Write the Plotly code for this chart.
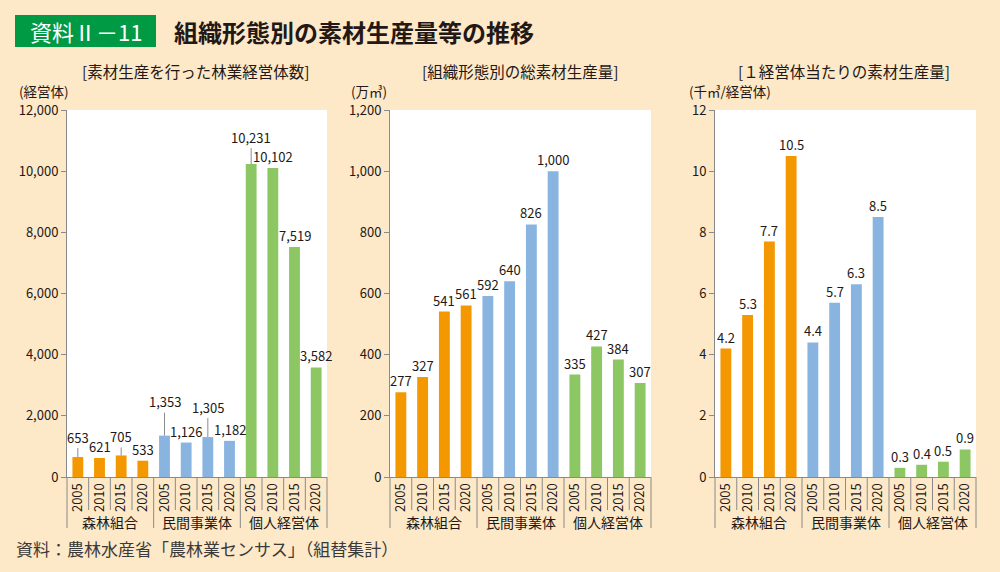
import plotly.graph_objects as go

# ---- data ----------------------------------------------------------------
years = ['2005', '2010', '2015', '2020']
groups = ['森林組合', '民間事業体', '個人経営体']

# 素材生産を行った林業経営体数 [経営体]
bodies = [653, 621, 705, 533, 1353, 1126, 1305, 1182, 10231, 10102, 7519, 3582]
# 組織形態別の総素材生産量 [万m3]
volume = [277, 327, 541, 561, 592, 640, 826, 1000, 335, 427, 384, 307]
# 1経営体当たりの素材生産量 [千m3/経営体]
per_body = [4.2, 5.3, 7.7, 10.5, 4.4, 5.7, 6.3, 8.5, 0.3, 0.4, 0.5, 0.9]

# labels lifted with a leader line in the first panel (index -> px)
leader_lift = {0: 20, 2: 19, 4: 34, 6: 30, 8: 27}

# ---- style ---------------------------------------------------------------
FONT = 'Noto Sans CJK JP'
INK = '#231815'
AXIS = '#8a8a8a'
BG = '#fde8c8'
group_colors = ['#f39800', '#8ab4e0', '#8cc763']

n = len(groups) * len(years)
xs = list(range(n))
ticktext = years * len(groups)
colors = [c for c in group_colors for _ in years]

panels = [
    dict(values=bodies, fmt='{:,}', rng=[0, 12000], dtick=2000, tickformat=',',
         dom=[0.067, 0.327], sub='[素材生産を行った林業経営体数]', subx=0.195,
         unit='(経営体)', unitx=0.018),
    dict(values=volume, fmt='{:,}', rng=[0, 1200], dtick=200, tickformat=',',
         dom=[0.390, 0.651], sub='[組織形態別の総素材生産量]', subx=0.520,
         unit='(万㎥)', unitx=0.350),
    dict(values=per_body, fmt='{:.1f}', rng=[0, 12], dtick=2, tickformat='d',
         dom=[0.715, 0.976], sub='[１経営体当たりの素材生産量]', subx=0.844,
         unit='(千㎥/経営体)', unitx=0.688),
]

y_dom = [1 - 477 / 572, 1 - 110 / 572]

fig = go.Figure()
annotations = []
shapes = []
layout_axes = {}

for p, pan in enumerate(panels):
    sfx = '' if p == 0 else str(p + 1)
    xa, ya = 'x' + sfx, 'y' + sfx

    fig.add_trace(go.Bar(x=xs, y=pan['values'], marker=dict(color=colors, line=dict(width=0)),
                         width=0.5, xaxis=xa, yaxis=ya, showlegend=False,
                         hoverinfo='x+y'))

    layout_axes['xaxis' + sfx] = dict(
        domain=pan['dom'], anchor=ya, range=[-0.5, n - 0.5],
        tickmode='array', tickvals=xs, ticktext=ticktext, tickangle=-90,
        tickfont=dict(family=FONT, size=13, color=INK),
        showline=True, linecolor=AXIS, linewidth=1, ticks='',
        showgrid=False, zeroline=False, fixedrange=True, automargin=False,
    )
    layout_axes['yaxis' + sfx] = dict(
        domain=y_dom, anchor=xa, range=pan['rng'], dtick=pan['dtick'],
        tickformat=pan['tickformat'],
        tickfont=dict(family=FONT, size=13, color=INK),
        showline=True, linecolor=AXIS, linewidth=1,
        ticks='outside', ticklen=5, tickcolor=AXIS, tickwidth=1,
        showgrid=False, zeroline=False, fixedrange=True, automargin=False,
    )

    # value labels
    for i, v in enumerate(pan['values']):
        txt = pan['fmt'].format(v)
        if p == 0 and i in leader_lift:
            annotations.append(dict(
                x=i, y=v, xref=xa, yref=ya, text=txt, showarrow=True,
                arrowhead=0, arrowwidth=1, arrowcolor='#8c8c8c', standoff=0,
                ax=0, ay=-leader_lift[i],
                font=dict(family=FONT, size=13, color=INK)))
        else:
            annotations.append(dict(
                x=i, y=v, xref=xa, yref=ya, text=txt, showarrow=False,
                yanchor='bottom', yshift=0,
                font=dict(family=FONT, size=13, color=INK)))

    # group names under the years
    for g, name in enumerate(groups):
        annotations.append(dict(
            x=g * len(years) + (len(years) - 1) / 2, y=-(522 - 477) / 367,
            xref=xa, yref=ya + ' domain', text=name, showarrow=False,
            yanchor='middle', font=dict(family=FONT, size=14, color=INK)))

    # separators between years and between groups
    for k in range(n + 1):
        long_line = k % len(years) == 0
        shapes.append(dict(
            type='line', xref=xa + ' domain', yref=ya + ' domain',
            x0=k / n, x1=k / n, y0=0, y1=-0.139 if long_line else -0.09,
            line=dict(color=AXIS, width=1)))

    # panel title and unit
    annotations.append(dict(
        x=pan['subx'], y=1 - 71 / 572, xref='paper', yref='paper', text=pan['sub'],
        showarrow=False, xanchor='center', yanchor='middle', borderpad=0,
        font=dict(family=FONT, size=15.5, color=INK)))
    annotations.append(dict(
        x=pan['unitx'], y=1 - 91 / 572, xref='paper', yref='paper', text=pan['unit'],
        showarrow=False, xanchor='left', yanchor='middle', borderpad=0,
        font=dict(family=FONT, size=13.5, color=INK)))

# header badge and title
shapes.append(dict(type='rect', xref='paper', yref='paper',
                   x0=0.015, x1=0.156, y0=1 - 47 / 572, y1=1 - 15 / 572,
                   fillcolor='#009944', line=dict(width=0), layer='below'))
annotations.append(dict(
    x=0.0855, y=1 - 31 / 572, xref='paper', yref='paper', text='資料Ⅱ－11',
    showarrow=False, xanchor='center', yanchor='middle',
    font=dict(family=FONT, size=22, color='white')))
annotations.append(dict(
    x=0.172, y=1 - 32 / 572, xref='paper', yref='paper',
    text='<b>組織形態別の素材生産量等の推移</b>',
    showarrow=False, xanchor='left', yanchor='middle',
    font=dict(family=FONT, size=24, color=INK)))

# source
annotations.append(dict(
    x=0.014, y=1 - 548 / 572, xref='paper', yref='paper',
    text='資料：農林水産省「農林業センサス」（組替集計）',
    showarrow=False, xanchor='left', yanchor='middle',
    font=dict(family=FONT, size=17, color='#3a3a3a')))

fig.update_layout(
    width=1000, height=572,
    margin=dict(l=0, r=0, t=0, b=0, autoexpand=False),
    paper_bgcolor=BG, plot_bgcolor='white',
    bargap=0.5,
    annotations=annotations, shapes=shapes,
    font=dict(family=FONT, color=INK),
    **layout_axes,
)

# drop the browser's default body margin so the figure sits at the page corner
fig.write_html("out.html", config={'displayModeBar': False},
               post_script="document.body.style.margin='0px';")
